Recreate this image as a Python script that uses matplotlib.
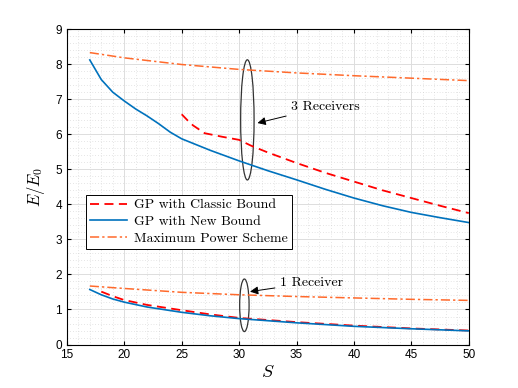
import numpy as np
import matplotlib
matplotlib.use("Agg")
import matplotlib.pyplot as plt
from matplotlib.patches import Ellipse

# ── data ────────────────────────────────────────────────────
s_new3 = [17, 18, 19, 20, 21, 22, 23, 24, 25, 27.5, 30, 32.5, 35, 37.5, 40, 42.5, 45, 47.5, 50]
e_new3 = [8.12, 7.56, 7.20, 6.95, 6.72, 6.52, 6.30, 6.06, 5.87, 5.54, 5.24, 4.96, 4.70, 4.43, 4.18, 3.96, 3.77, 3.62, 3.48]

s_cls3 = [25, 25.5, 26, 27, 28.5, 30, 31, 32.5, 35, 37.5, 40, 42.5, 45, 47.5, 50]
e_cls3 = [6.57, 6.40, 6.25, 6.03, 5.93, 5.84, 5.68, 5.48, 5.18, 4.90, 4.65, 4.40, 4.18, 3.96, 3.75]

s_mps3 = [17, 20, 25, 30, 35, 40, 45, 50]
e_mps3 = [8.33, 8.18, 7.99, 7.85, 7.75, 7.67, 7.60, 7.53]

s_new1 = [17, 18, 19, 20, 22, 25, 27.5, 30, 35, 40, 45, 50]
e_new1 = [1.57, 1.42, 1.30, 1.21, 1.07, 0.92, 0.82, 0.74, 0.62, 0.52, 0.45, 0.39]

s_cls1 = [18, 19, 20, 22, 25, 27.5, 30, 35, 40, 45, 50]
e_cls1 = [1.51, 1.38, 1.27, 1.13, 0.98, 0.86, 0.76, 0.64, 0.54, 0.46, 0.40]

s_mps1 = [17, 20, 25, 30, 35, 40, 45, 50]
e_mps1 = [1.67, 1.60, 1.49, 1.42, 1.37, 1.33, 1.29, 1.26]

C_BLUE = "#0072BD"
C_RED = "#FF0000"
C_ORG = "#FF6A2C"
SERIF = "cmr10"

plt.rcParams.update({
    "font.family": "Liberation Sans",
    "mathtext.fontset": "cm",
    "axes.linewidth": 0.8,
    "xtick.direction": "in", "ytick.direction": "in",
    "xtick.major.size": 3, "ytick.major.size": 3,
    "xtick.labelsize": 8.5, "ytick.labelsize": 8.5,
})

fig = plt.figure(figsize=(5.18, 3.88), dpi=100)
ax = fig.add_axes([0.129, 0.112, 0.776, 0.813])

ax.plot(s_cls3, e_cls3, "--", color=C_RED, lw=1.3, dashes=(5, 3), label="GP with Classic Bound")
ax.plot(s_new3, e_new3, "-", color=C_BLUE, lw=1.2, label="GP with New Bound")
ax.plot(s_mps3, e_mps3, "-.", color=C_ORG, lw=1.1, dashes=(6, 2, 1.5, 2), label="Maximum Power Scheme")
ax.plot(s_cls1, e_cls1, "--", color=C_RED, lw=1.3, dashes=(5, 3))
ax.plot(s_new1, e_new1, "-", color=C_BLUE, lw=1.2)
ax.plot(s_mps1, e_mps1, "-.", color=C_ORG, lw=1.1, dashes=(6, 2, 1.5, 2))

ax.set_xlim(15, 50)
ax.set_ylim(0, 9)
ax.set_xticks(np.arange(15, 51, 5))
ax.set_yticks(np.arange(0, 10, 1))
ax.set_xticks(np.arange(15, 51, 1), minor=True)
ax.set_yticks(np.arange(0, 9.01, 0.2), minor=True)
ax.tick_params(which="minor", length=0)
ax.tick_params(top=True, right=True, which="major")
ax.grid(True, which="major", color="#DDDDDD", lw=0.7)
ax.grid(True, which="minor", color="#CCCCCC", lw=0.5, ls=(0, (1, 3)))
ax.set_axisbelow(True)

ax.set_xlabel(r"$S$", fontsize=13, labelpad=2)
ax.set_ylabel(r"$E/E_0$", fontsize=12, labelpad=6)

# ── group annotations ───────────────────────────────────────
ax.add_patch(Ellipse((30.72, 6.41), 1.17, 3.43, fill=False, ec="#333333", lw=0.9))
ax.add_patch(Ellipse((30.46, 1.12), 0.82, 1.50, fill=False, ec="#333333", lw=0.9))
ax.annotate("3 Receivers", xy=(31.6, 6.32), xytext=(34.5, 6.79),
            fontfamily=SERIF, fontsize=10, va="center",
            arrowprops=dict(arrowstyle="-|>", color="black", lw=0.7,
                            mutation_scale=12, shrinkA=2, shrinkB=0))
ax.annotate("1 Receiver", xy=(30.95, 1.51), xytext=(33.6, 1.77),
            fontfamily=SERIF, fontsize=10, va="center",
            arrowprops=dict(arrowstyle="-|>", color="black", lw=0.7,
                            mutation_scale=12, shrinkA=2, shrinkB=0))

leg = ax.legend(loc="upper left", bbox_to_anchor=(0.047, 0.475), borderaxespad=0,
                prop={"family": SERIF, "size": 9.9}, fancybox=False,
                edgecolor="black", framealpha=1, handlelength=2.7,
                borderpad=0.3, labelspacing=0.3, handletextpad=0.5)
leg.get_frame().set_linewidth(0.7)

fig.savefig("out.png", dpi=100)
